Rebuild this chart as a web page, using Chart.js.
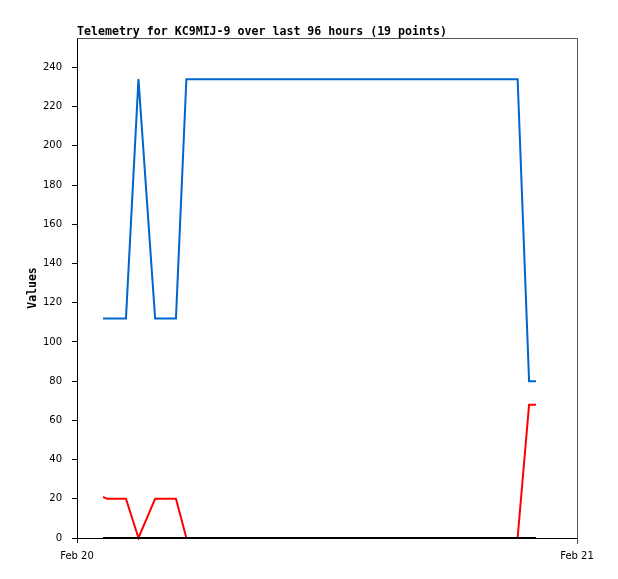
<!DOCTYPE html>
<html>
<head>
<meta charset="utf-8">
<script src="https://cdn.jsdelivr.net/npm/chart.js@4/dist/chart.umd.min.js"></script>
<style>
  body { margin: 0; background: #fff; }
  #box { width: 618px; height: 579px; }
</style>
</head>
<body>
<div id="box"><canvas id="telemetry" width="618" height="579"></canvas></div>
<script>
// hours since Feb 20 00:00
var hours = [1.25, 1.45, 2.35, 2.95, 3.75, 4.75, 5.25, 6.5, 8, 10, 12, 14, 16, 18, 19.5, 20.5, 21.15, 21.7, 22.03];
var blueValues  = [112, 112, 112, 234, 112, 112, 234, 234, 234, 234, 234, 234, 234, 234, 234, 234, 234, 80, 80];
var redValues   = [21, 20, 20, 0, 20, 20, 0, 0, 0, 0, 0, 0, 0, 0, 0, 0, 0, 68, 68];
var blackValues = [0, 0, 0, 0, 0, 0, 0, 0, 0, 0, 0, 0, 0, 0, 0, 0, 0, 0, 0];
var dayTicks = [0, 24];
var dayLabels = ['Feb 20', 'Feb 21'];
var titleText = 'Telemetry for KC9MIJ-9 over last 96 hours (19 points)';

function toPoints(vals) {
    var pts = [];
    for (var i = 0; i < hours.length; i++) {
        pts.push({ x: hours[i], y: vals[i] });
    }
    return pts;
}

// title + gray top/right frame
var framePlugin = {
    id: 'frame',
    afterDraw: function(chart) {
        var ctx = chart.ctx;
        var a = chart.chartArea;
        ctx.save();
        ctx.strokeStyle = '#555';
        ctx.lineWidth = 1;
        ctx.beginPath();
        ctx.moveTo(a.left, a.top + 0.5);
        ctx.lineTo(a.right + 0.5, a.top + 0.5);
        ctx.lineTo(a.right + 0.5, a.bottom + 6);
        ctx.stroke();
        ctx.fillStyle = '#000';
        ctx.font = 'bold 11.6px "DejaVu Sans Mono"';
        ctx.textBaseline = 'alphabetic';
        ctx.fillText(titleText, a.left, 35);
        ctx.restore();
    }
};

var tickFont = { family: 'DejaVu Sans', size: 10 };

new Chart(document.getElementById('telemetry'), {
    type: 'line',
    data: {
        // first dataset is drawn last (on top)
        datasets: [
            { data: toPoints(blackValues), borderColor: '#000', borderWidth: 2, pointRadius: 0, clip: 3 },
            { data: toPoints(redValues), borderColor: '#ff0000', borderWidth: 2, pointRadius: 0, clip: 3 },
            { data: toPoints(blueValues), borderColor: '#0066cc', borderWidth: 2, pointRadius: 0, clip: 3 }
        ]
    },
    options: {
        responsive: false,
        animation: false,
        layout: { padding: { top: 38, right: 41, bottom: 0, left: 0 } },
        plugins: { legend: { display: false }, tooltip: { enabled: false } },
        scales: {
            x: {
                type: 'linear',
                min: 0,
                max: 24,
                afterBuildTicks: function(scale) {
                    scale.ticks = dayTicks.map(function(v) { return { value: v }; });
                },
                afterFit: function(scale) { scale.height = 41; },
                ticks: {
                    color: '#000',
                    font: tickFont,
                    padding: 7,
                    maxRotation: 0,
                    autoSkip: false,
                    callback: function(v) { return dayLabels[dayTicks.indexOf(v)]; }
                },
                grid: { drawOnChartArea: false, tickLength: 5, color: '#000' },
                border: { color: '#000', width: 1 }
            },
            y: {
                min: 0,
                max: 255,
                afterBuildTicks: function(scale) {
                    var t = [];
                    for (var v = 0; v <= 240; v += 20) t.push({ value: v });
                    scale.ticks = t;
                },
                afterFit: function(scale) { scale.width = 77; },
                ticks: { color: '#000', font: tickFont, padding: 10 },
                grid: { drawOnChartArea: false, tickLength: 5, color: '#000' },
                border: { color: '#000', width: 1 },
                title: {
                    display: true,
                    text: 'Values',
                    color: '#000',
                    font: { family: 'DejaVu Sans Mono', size: 11.5, weight: 'bold' },
                    padding: { top: 26, bottom: 0 }
                }
            }
        }
    },
    plugins: [framePlugin]
});
</script>
</body>
</html>
